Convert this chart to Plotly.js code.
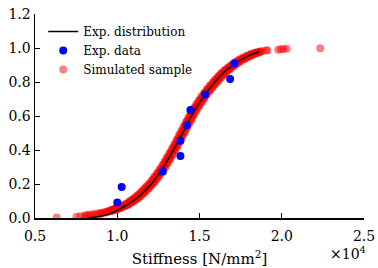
<!DOCTYPE html>
<html>
<head>
<meta charset="utf-8">
<script src="https://cdn.plot.ly/plotly-3.0.1.min.js"></script>
<style>html,body{margin:0;padding:0;background:#fff;}#chart{width:378px;height:268px;}</style>
</head>
<body>
<div id="chart"></div>
<script>
// Stiffness values in units of 10^4 N/mm^2
const distX = [0.82, 0.88, 0.94, 1.00, 1.05, 1.10, 1.15, 1.20, 1.25, 1.30, 1.35, 1.40, 1.45, 1.50, 1.55, 1.60, 1.65, 1.70, 1.75, 1.80, 1.86];
const distY = [0.000, 0.007, 0.020, 0.045, 0.072, 0.103, 0.143, 0.193, 0.255, 0.330, 0.415, 0.505, 0.600, 0.680, 0.748, 0.808, 0.858, 0.897, 0.930, 0.955, 0.978];

// Experimental data points
const dataX = [1.000, 1.027, 1.277, 1.384, 1.384, 1.423, 1.445, 1.534, 1.686, 1.712];
const dataY = [0.091, 0.182, 0.273, 0.364, 0.455, 0.545, 0.636, 0.727, 0.818, 0.909];

const simX = [0.632, 0.752, 0.775, 0.800, 0.812, 0.826, 0.848, 0.868, 0.889, 0.905, 0.921, 0.937,
  0.810, 0.840, 0.870, 0.900, 0.920, 0.940,
  0.945, 0.972, 0.970, 0.998, 0.992, 1.022, 1.016, 1.047, 1.040, 1.068, 1.060, 1.088, 1.079, 1.108,
  1.097, 1.126, 1.114, 1.143, 1.131, 1.161, 1.148, 1.177, 1.165, 1.193, 1.181, 1.211, 1.198, 1.228,
  1.215, 1.243, 1.230, 1.260, 1.247, 1.276, 1.263, 1.292, 1.279, 1.308, 1.294, 1.322, 1.308, 1.337,
  1.323, 1.352, 1.339, 1.367, 1.353, 1.381, 1.367, 1.395, 1.381, 1.409, 1.395, 1.423, 1.409, 1.437,
  1.423, 1.452, 1.438, 1.466, 1.452, 1.482, 1.469, 1.498, 1.485, 1.514, 1.501, 1.530, 1.517, 1.546,
  1.533, 1.563, 1.551, 1.580, 1.568, 1.598, 1.586, 1.615, 1.603, 1.633, 1.621, 1.651, 1.639, 1.669,
  1.658, 1.689, 1.679, 1.710, 1.699, 1.730, 1.720, 1.752, 1.742, 1.775, 1.766, 1.800, 1.791, 1.824,
  1.816, 1.848, 1.846, 1.870,
  0.970, 0.959, 0.996, 0.983, 1.018, 1.006, 1.043, 1.030, 1.065, 1.051,
  1.085, 1.071, 1.104, 1.089, 1.122, 1.107, 1.140, 1.124, 1.157, 1.142,
  1.174, 1.158, 1.190, 1.174, 1.207, 1.192, 1.224, 1.209, 1.240, 1.224,
  1.256, 1.241, 1.273, 1.257, 1.289, 1.273, 1.305, 1.288, 1.319, 1.302,
  1.334, 1.317, 1.349, 1.333, 1.364, 1.347, 1.378, 1.361, 1.392, 1.375,
  1.406, 1.389, 1.420, 1.403, 1.434, 1.417, 1.449, 1.432, 1.463, 1.446,
  1.478, 1.463, 1.495, 1.479, 1.511, 1.495, 1.527, 1.511, 1.543, 1.527,
  1.559, 1.544, 1.577, 1.561, 1.594, 1.579, 1.612, 1.596, 1.629, 1.614,
  1.647, 1.632, 1.665, 1.651, 1.685, 1.671, 1.706, 1.692, 1.726, 1.712,
  1.747, 1.734, 1.770, 1.758, 1.794, 1.783, 1.819, 1.807, 1.845, 1.834,
  1.864,
  0.952, 0.965, 0.978, 0.990, 1.000, 1.012, 1.025, 1.037, 1.048, 1.058,
  1.068, 1.078, 1.088, 1.097, 1.106, 1.115, 1.124, 1.132, 1.140, 1.150,
  1.158, 1.166, 1.174, 1.182, 1.191, 1.200, 1.208, 1.217, 1.225, 1.232,
  1.240, 1.249, 1.257, 1.265, 1.273, 1.281, 1.289, 1.297, 1.304, 1.311,
  1.318, 1.326, 1.333, 1.341, 1.349, 1.356, 1.363, 1.370, 1.377, 1.384,
  1.391, 1.398, 1.405, 1.412, 1.419, 1.426, 1.433, 1.441, 1.448, 1.455,
  1.462, 1.471, 1.479, 1.487, 1.495, 1.503, 1.511, 1.519, 1.527, 1.535,
  1.543, 1.552, 1.561, 1.569, 1.578, 1.587, 1.596, 1.604, 1.613, 1.622,
  1.631, 1.640, 1.649, 1.658, 1.668, 1.678, 1.689, 1.699, 1.709, 1.719,
  1.730, 1.741, 1.752, 1.764, 1.776, 1.789, 1.801, 1.813, 1.826, 1.840,
  1.853, 1.866,
  1.879, 1.905, 1.912, 1.978, 1.995, 2.010, 2.030, 2.234];
const simY = [0.003, 0.007, 0.010, 0.013, 0.016, 0.019, 0.022, 0.025, 0.028, 0.031, 0.034, 0.037,
  0.005, 0.012, 0.018, 0.024, 0.030, 0.036,
  0.040, 0.044, 0.048, 0.052, 0.056, 0.060, 0.065, 0.070, 0.075, 0.080, 0.086, 0.092, 0.098, 0.104,
  0.110, 0.117, 0.124, 0.131, 0.138, 0.146, 0.154, 0.162, 0.170, 0.178, 0.187, 0.196, 0.205, 0.215,
  0.225, 0.235, 0.245, 0.256, 0.267, 0.278, 0.290, 0.302, 0.314, 0.326, 0.338, 0.350, 0.362, 0.375,
  0.388, 0.401, 0.414, 0.427, 0.440, 0.453, 0.466, 0.479, 0.492, 0.505, 0.518, 0.531, 0.544, 0.557,
  0.570, 0.583, 0.596, 0.609, 0.622, 0.635, 0.648, 0.660, 0.672, 0.684, 0.696, 0.707, 0.718, 0.729,
  0.740, 0.751, 0.761, 0.771, 0.781, 0.791, 0.801, 0.811, 0.820, 0.829, 0.838, 0.847, 0.856, 0.864,
  0.872, 0.880, 0.888, 0.896, 0.903, 0.910, 0.917, 0.924, 0.931, 0.937, 0.943, 0.949, 0.955, 0.960,
  0.965, 0.970, 0.974, 0.978,
  0.042, 0.046, 0.050, 0.054, 0.058, 0.062, 0.067, 0.072, 0.077, 0.083,
  0.089, 0.095, 0.101, 0.107, 0.113, 0.120, 0.127, 0.134, 0.142, 0.150,
  0.158, 0.166, 0.174, 0.182, 0.191, 0.200, 0.210, 0.220, 0.230, 0.240,
  0.250, 0.261, 0.272, 0.284, 0.296, 0.308, 0.320, 0.332, 0.344, 0.356,
  0.368, 0.381, 0.394, 0.407, 0.420, 0.433, 0.446, 0.459, 0.472, 0.485,
  0.498, 0.511, 0.524, 0.537, 0.550, 0.563, 0.576, 0.589, 0.602, 0.615,
  0.628, 0.641, 0.654, 0.666, 0.678, 0.690, 0.701, 0.712, 0.723, 0.734,
  0.745, 0.756, 0.766, 0.776, 0.786, 0.796, 0.806, 0.815, 0.824, 0.833,
  0.842, 0.851, 0.860, 0.868, 0.876, 0.884, 0.892, 0.899, 0.906, 0.913,
  0.920, 0.927, 0.934, 0.940, 0.946, 0.952, 0.957, 0.962, 0.967, 0.972,
  0.976,
  0.040, 0.044, 0.048, 0.052, 0.056, 0.060, 0.065, 0.070, 0.075, 0.080,
  0.086, 0.092, 0.098, 0.104, 0.110, 0.117, 0.124, 0.131, 0.138, 0.146,
  0.154, 0.162, 0.170, 0.178, 0.187, 0.196, 0.205, 0.215, 0.225, 0.235,
  0.245, 0.256, 0.267, 0.278, 0.290, 0.302, 0.314, 0.326, 0.338, 0.350,
  0.362, 0.375, 0.388, 0.401, 0.414, 0.427, 0.440, 0.453, 0.466, 0.479,
  0.492, 0.505, 0.518, 0.531, 0.544, 0.557, 0.570, 0.583, 0.596, 0.609,
  0.622, 0.635, 0.648, 0.660, 0.672, 0.684, 0.696, 0.707, 0.718, 0.729,
  0.740, 0.751, 0.761, 0.771, 0.781, 0.791, 0.801, 0.811, 0.820, 0.829,
  0.838, 0.847, 0.856, 0.864, 0.872, 0.880, 0.888, 0.896, 0.903, 0.910,
  0.917, 0.924, 0.931, 0.937, 0.943, 0.949, 0.955, 0.960, 0.965, 0.970,
  0.974, 0.978,
  0.982, 0.985, 0.987, 0.990, 0.992, 0.994, 0.996, 0.998];

// Tick labels
const xTickVals = [0.5, 1.0, 1.5, 2.0, 2.5];
const xTickText = ["0.5", "1.0", "1.5", "2.0", "2.5"];
const yTickVals = [0.0, 0.2, 0.4, 0.6, 0.8, 1.0, 1.2];
const yTickText = ["0.0", "0.2", "0.4", "0.6", "0.8", "1.0", "1.2"];

const FONT = "DejaVu Serif, Liberation Serif, serif";

const traces = [
  {x: simX, y: simY, type: 'scatter', mode: 'markers', name: 'Simulated sample', legendrank: 3,
   marker: {color: 'rgb(255,0,0)', opacity: 0.5, size: 8, line: {width: 0}}},
  {x: distX, y: distY, type: 'scatter', mode: 'lines', name: 'Exp. distribution', legendrank: 1,
   line: {color: 'black', width: 1.5, shape: 'spline', smoothing: 0.6}},
  {x: dataX, y: dataY, type: 'scatter', mode: 'markers', name: 'Exp. data', legendrank: 2,
   marker: {color: 'rgb(0,0,255)', size: 8, line: {width: 0}}}
];

const layout = {
  width: 378, height: 268,
  margin: {l: 35, r: 14, t: 14, b: 50},
  paper_bgcolor: 'white', plot_bgcolor: 'white',
  font: {family: FONT, size: 14, color: 'black'},
  showlegend: true,
  legend: {x: 0.025, y: 0.985, xanchor: 'left', yanchor: 'top', bgcolor: 'rgba(0,0,0,0)',
           font: {family: FONT, size: 12, color: 'black'}, tracegroupgap: 0},
  xaxis: {range: [0.5, 2.5], tickvals: xTickVals, ticktext: xTickText,
          showline: true, linecolor: 'black', linewidth: 1.5, mirror: false,
          ticks: 'inside', ticklen: 5, tickwidth: 1, tickcolor: 'black',
          showgrid: false, zeroline: false, ticklabelstandoff: 5,
          tickfont: {family: FONT, size: 14, color: 'black'},
          title: {text: 'Stiffness [N/mm<sup>2</sup>]', font: {family: FONT, size: 15, color: 'black'}, standoff: 10}},
  yaxis: {range: [0, 1.2], tickvals: yTickVals, ticktext: yTickText,
          showline: true, linecolor: 'black', linewidth: 1.5, mirror: false,
          ticks: 'inside', ticklen: 5, tickwidth: 1, tickcolor: 'black',
          showgrid: false, zeroline: false,
          tickfont: {family: FONT, size: 14, color: 'black'}},
  annotations: [
    {text: '×10<sup>4</sup>', xref: 'paper', yref: 'paper', x: 1.012, y: -0.118,
     xanchor: 'right', yanchor: 'top', showarrow: false,
     font: {family: FONT, size: 14, color: 'black'}}
  ]
};

Plotly.newPlot('chart', traces, layout, {displayModeBar: false, staticPlot: true});
</script>
</body>
</html>
